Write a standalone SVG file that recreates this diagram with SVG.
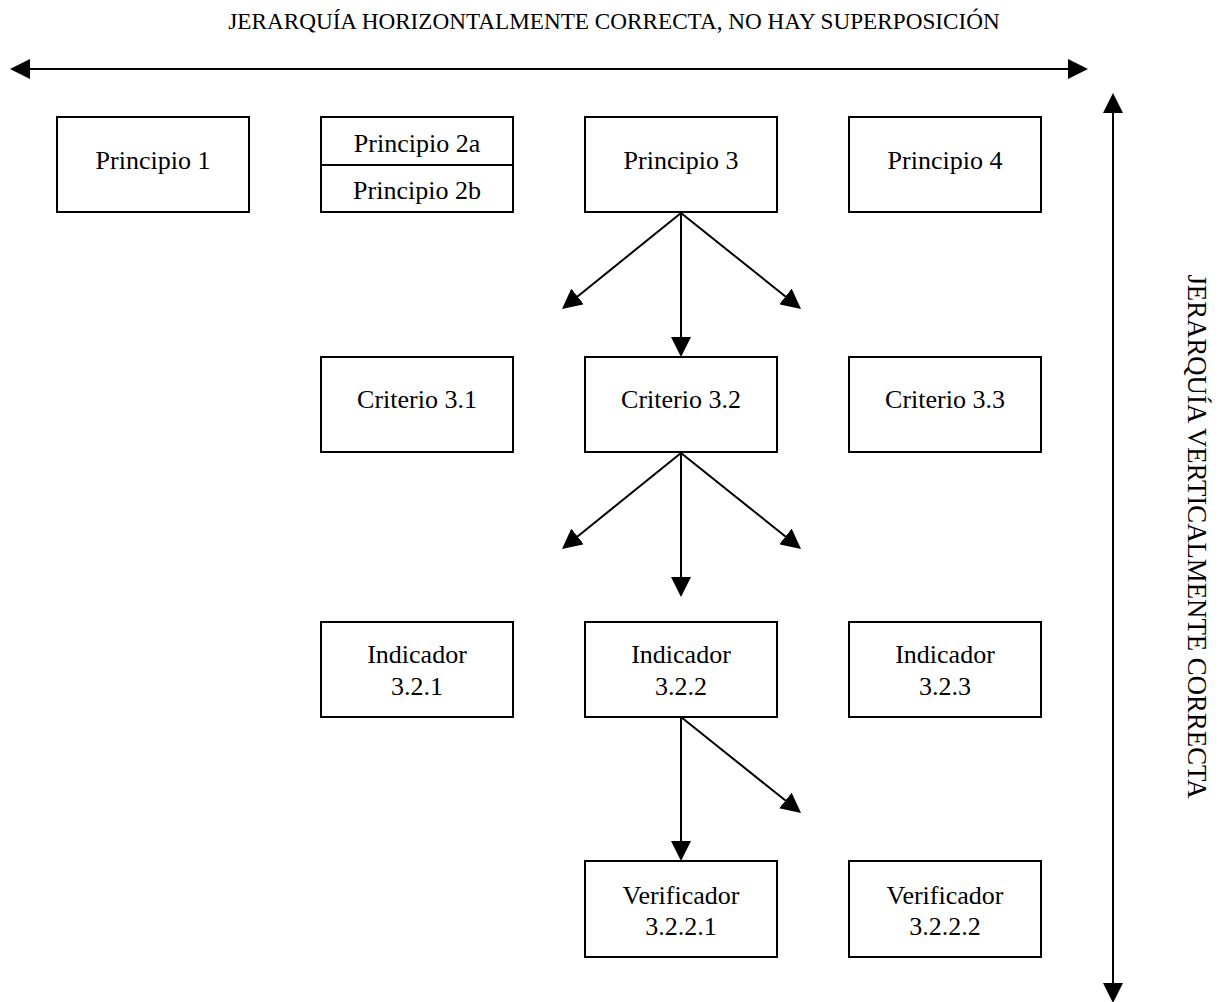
<svg xmlns="http://www.w3.org/2000/svg" width="1219" height="1002" viewBox="0 0 1219 1002">
  <style>
    .box { fill: #ffffff; stroke: #000000; stroke-width: 2; }
    .lbl { font-family: "Liberation Serif", "Times New Roman", serif; font-size: 26px; fill: #000000; text-anchor: middle; }
    .axis-lbl { font-family: "Liberation Serif", "Times New Roman", serif; fill: #000000; text-anchor: middle; }
    .conn { stroke: #000000; stroke-width: 2; fill: none; marker-end: url(#head); }
    .axis { stroke: #000000; stroke-width: 2; fill: none; marker-start: url(#head); marker-end: url(#head); }
  </style>
  <defs>
    <marker id="head" markerUnits="userSpaceOnUse" markerWidth="20" markerHeight="20" viewBox="0 0 20 20" refX="2" refY="10" orient="auto-start-reverse">
      <path d="M0,0 L20,10 L0,20 Z" fill="#000000"/>
    </marker>
  </defs>

  <rect width="1219" height="1002" fill="#ffffff"/>

  <!-- axis captions -->
  <text class="axis-lbl" x="614" y="29" font-size="23.2">JERARQUÍA HORIZONTALMENTE CORRECTA, NO HAY SUPERPOSICIÓN</text>
  <text class="axis-lbl" font-size="26.8" transform="translate(1188,536.5) rotate(90)">JERARQUÍA VERTICALMENTE CORRECTA</text>

  <!-- connectors -->
  <g id="connectors">
    <line class="axis" x1="28" y1="69" x2="1070" y2="69"/>
    <line class="axis" x1="1113" y1="111" x2="1113" y2="985"/>

    <line class="conn" x1="681" y1="213" x2="576" y2="297.7"/>
    <line class="conn" x1="681" y1="213" x2="681" y2="339"/>
    <line class="conn" x1="681" y1="213" x2="787" y2="297.7"/>

    <line class="conn" x1="681" y1="453" x2="576" y2="537.7"/>
    <line class="conn" x1="681" y1="453" x2="681" y2="579"/>
    <line class="conn" x1="681" y1="453" x2="787" y2="537.7"/>

    <line class="conn" x1="681" y1="717" x2="681" y2="843"/>
    <line class="conn" x1="681" y1="717" x2="787" y2="801.8"/>
  </g>

  <!-- principles -->
  <g id="principio-1">
    <rect class="box" x="57" y="117" width="192" height="95"/>
    <text class="lbl" x="153" y="169">Principio 1</text>
  </g>
  <g id="principio-2">
    <rect class="box" x="321" y="117" width="192" height="95"/>
    <line x1="321" y1="165" x2="513" y2="165" stroke="#000000" stroke-width="2"/>
    <text class="lbl" x="417" y="151.5">Principio 2a</text>
    <text class="lbl" x="417" y="199">Principio 2b</text>
  </g>
  <g id="principio-3">
    <rect class="box" x="585" y="117" width="192" height="95"/>
    <text class="lbl" x="681" y="169">Principio 3</text>
  </g>
  <g id="principio-4">
    <rect class="box" x="849" y="117" width="192" height="95"/>
    <text class="lbl" x="945" y="169">Principio 4</text>
  </g>

  <!-- criteria -->
  <g id="criterio-3-1">
    <rect class="box" x="321" y="357" width="192" height="95"/>
    <text class="lbl" x="417" y="408">Criterio 3.1</text>
  </g>
  <g id="criterio-3-2">
    <rect class="box" x="585" y="357" width="192" height="95"/>
    <text class="lbl" x="681" y="408">Criterio 3.2</text>
  </g>
  <g id="criterio-3-3">
    <rect class="box" x="849" y="357" width="192" height="95"/>
    <text class="lbl" x="945" y="408">Criterio 3.3</text>
  </g>

  <!-- indicators -->
  <g id="indicador-3-2-1">
    <rect class="box" x="321" y="622" width="192" height="95"/>
    <text class="lbl" x="417" y="663">Indicador</text>
    <text class="lbl" x="417" y="695">3.2.1</text>
  </g>
  <g id="indicador-3-2-2">
    <rect class="box" x="585" y="622" width="192" height="95"/>
    <text class="lbl" x="681" y="663">Indicador</text>
    <text class="lbl" x="681" y="695">3.2.2</text>
  </g>
  <g id="indicador-3-2-3">
    <rect class="box" x="849" y="622" width="192" height="95"/>
    <text class="lbl" x="945" y="663">Indicador</text>
    <text class="lbl" x="945" y="695">3.2.3</text>
  </g>

  <!-- verifiers -->
  <g id="verificador-3-2-2-1">
    <rect class="box" x="585" y="861" width="192" height="96"/>
    <text class="lbl" x="681" y="904">Verificador</text>
    <text class="lbl" x="681" y="935">3.2.2.1</text>
  </g>
  <g id="verificador-3-2-2-2">
    <rect class="box" x="849" y="861" width="192" height="96"/>
    <text class="lbl" x="945" y="904">Verificador</text>
    <text class="lbl" x="945" y="935">3.2.2.2</text>
  </g>
</svg>
